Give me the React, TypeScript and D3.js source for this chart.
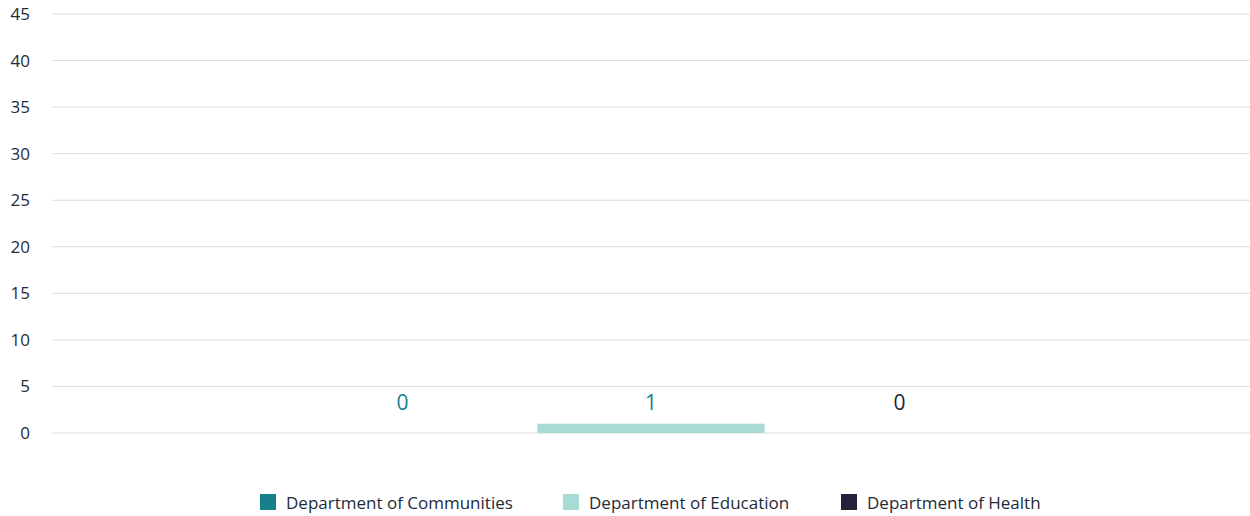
import React from "react";
import * as d3 from "d3";

const categories = ["Department of Communities", "Department of Education", "Department of Health"];
const values = [0, 1, 0];
const colors = ["#167f8a", "#a8dbd3", "#24233b"];
const labelColors = ["#167f8a", "#167f8a", "#24233b"];
const yTicks = [0, 5, 10, 15, 20, 25, 30, 35, 40, 45];

const W = 1250;
const H = 516;
const FONT = "'Open Sans', 'Noto Sans', sans-serif";

export default function App() {
  const left = 52;
  const right = 1250;
  const y = d3.scaleLinear().domain([0, 45]).range([433, 14]);
  const center = (left + right) / 2;
  const x = d3
    .scaleBand<string>()
    .domain(categories)
    .range([center - 372, center + 372])
    .paddingInner(0.085)
    .paddingOuter(0.04);

  const legendX = [260, 563, 841];

  return (
    <svg
      width={W}
      height={H}
      style={{ position: "absolute", left: 0, top: 0, background: "#fff" }}
      fontFamily={FONT}
    >
      {yTicks.map((t) => (
        <g key={t}>
          <line x1={left} x2={right} y1={y(t)} y2={y(t)} stroke="#dcdcdc" strokeWidth={1} />
          <text x={30} y={y(t)} dy="0.35em" textAnchor="end" fontSize={17} fill="#1d2b3a">
            {t}
          </text>
        </g>
      ))}
      {categories.map((c, i) => (
        <g key={c}>
          <rect
            x={x(c)}
            y={y(values[i])}
            width={x.bandwidth()}
            height={y(0) - y(values[i])}
            fill={colors[i]}
          />
          <text
            x={(x(c) as number) + x.bandwidth() / 2}
            y={y(0) - 23}
            textAnchor="middle"
            fontSize={21}
            fill={labelColors[i]}
          >
            {values[i]}
          </text>
        </g>
      ))}
      {categories.map((c, i) => (
        <g key={"l" + c}>
          <rect x={legendX[i]} y={494} width={16} height={16} fill={colors[i]} />
          <text x={legendX[i] + 26} y={503} dy="0.35em" fontSize={17} fill="#1d2b3a">
            {c}
          </text>
        </g>
      ))}
    </svg>
  );
}
